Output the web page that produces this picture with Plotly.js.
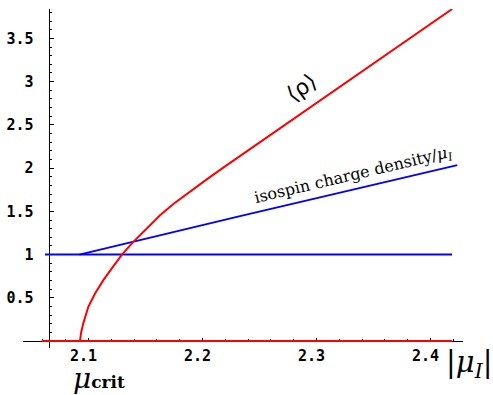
<!DOCTYPE html>
<html>
<head>
<meta charset="utf-8">
<script src="https://cdn.plot.ly/plotly-3.0.1.min.js"></script>
<style>html,body{margin:0;padding:0;background:#fff;}</style>
</head>
<body>
<div id="chart" style="width:493px;height:395px;"></div>
<script>
// <rho> curve (red)
const rhoX = [2.0925, 2.0935, 2.0954, 2.0975, 2.0998, 2.1057, 2.113, 2.1204, 2.129, 2.138, 2.1452, 2.1496, 2.155, 2.1627, 2.1744, 2.189, 2.2037, 2.2182, 2.2329, 2.2475, 2.2592, 2.294, 2.330, 2.370, 2.419];
const rhoY = [0.00, 0.10, 0.205, 0.31, 0.397, 0.55, 0.705, 0.84, 0.994, 1.13, 1.225, 1.283, 1.355, 1.455, 1.585, 1.73, 1.87, 2.005, 2.14, 2.275, 2.38, 2.70, 3.03, 3.395, 3.84];
// isospin charge density / mu_I (blue)
const isoX = [2.092, 2.2329, 2.4235];
const isoY = [1.00, 1.445, 2.035];
// horizontal reference lines
const oneLineX = [2.0618, 2.4189];
const oneLineY = [1, 1];
const zeroLineX = [2.059, 2.419];
const zeroLineY = [0, 0];
// ticks
const xTickVals = [2.1, 2.2, 2.3, 2.4];
const xTickText = ["2.1", "2.2", "2.3", "2.4"];
const yTickVals = [0.5, 1, 1.5, 2, 2.5, 3, 3.5];
const yTickText = ["0.5", "1", "1.5", "2", "2.5", "3", "3.5"];

const red = "#ff0000", blue = "#0000ff";
const traces = [
  {x: zeroLineX, y: zeroLineY, mode: "lines", line: {color: red, width: 2}, hoverinfo: "skip"},
  {x: oneLineX, y: oneLineY, mode: "lines", line: {color: blue, width: 2}, hoverinfo: "skip"},
  {x: isoX, y: isoY, mode: "lines", line: {color: blue, width: 2}, hoverinfo: "skip"},
  {x: rhoX, y: rhoY, mode: "lines", line: {color: red, width: 2}, hoverinfo: "skip"}
];

const tickFont = {family: "DejaVu Sans Mono", size: 15, weight: "bold", color: "#000"};
const layout = {
  width: 493, height: 395,
  margin: {l: 23, r: 30, t: 9, b: 47},
  paper_bgcolor: "#fff", plot_bgcolor: "#fff",
  showlegend: false,
  xaxis: {
    range: [2.0425, 2.4285], anchor: "free", position: 0.0206,
    showline: true, linecolor: "#000", linewidth: 1, layer: "below traces",
    showgrid: false, zeroline: false,
    tickmode: "array", tickvals: xTickVals, ticktext: xTickText,
    ticks: "inside", ticklen: 3, tickcolor: "#000", tickwidth: 1,
    minor: {tickmode: "linear", tick0: 2.1, dtick: 0.02, ticks: "inside", ticklen: 2, tickcolor: "#000", showgrid: false},
    tickfont: tickFont, ticklabelshift: -5, ticklabelstandoff: 1
  },
  yaxis: {
    range: [-0.08, 3.84], anchor: "free", position: 0.058,
    showline: true, linecolor: "#000", linewidth: 1, layer: "below traces",
    showgrid: false, zeroline: false,
    tickmode: "array", tickvals: yTickVals, ticktext: yTickText,
    ticks: "inside", ticklen: 4, tickcolor: "#000", tickwidth: 1,
    minor: {tickmode: "linear", tick0: 0, dtick: 0.1, ticks: "inside", ticklen: 2, tickcolor: "#000", showgrid: false},
    tickfont: tickFont, ticklabelstandoff: 12
  },
  annotations: [
    {xref: "x", yref: "y", x: 2.287, y: 2.93, text: "⟨ρ⟩", showarrow: false, textangle: -35,
     font: {family: "DejaVu Sans", size: 22, color: "#000"}},
    {xref: "x", yref: "y", x: 2.332, y: 1.91, text: "isospin charge density/<i>μ</i><sub><i>I</i></sub>", showarrow: false, textangle: -13.3,
     font: {family: "DejaVu Serif", size: 16, color: "#000"}},
    {xref: "paper", yref: "paper", x: 0.108, y: -0.091, xanchor: "left", yanchor: "middle",
     text: "<i>μ</i><span style=\"font-size:17px;font-weight:bold\">crit</span>", showarrow: false,
     font: {family: "DejaVu Serif", size: 28, color: "#000"}},
    {xref: "paper", yref: "paper", x: 1.0136, y: -0.048, xanchor: "center", yanchor: "middle",
     text: "|<i>μ<sub>I</sub></i>|", showarrow: false,
     font: {family: "DejaVu Serif", size: 29, color: "#000"}}
  ]
};
Plotly.newPlot("chart", traces, layout, {staticPlot: true, displayModeBar: false});
</script>
</body>
</html>
